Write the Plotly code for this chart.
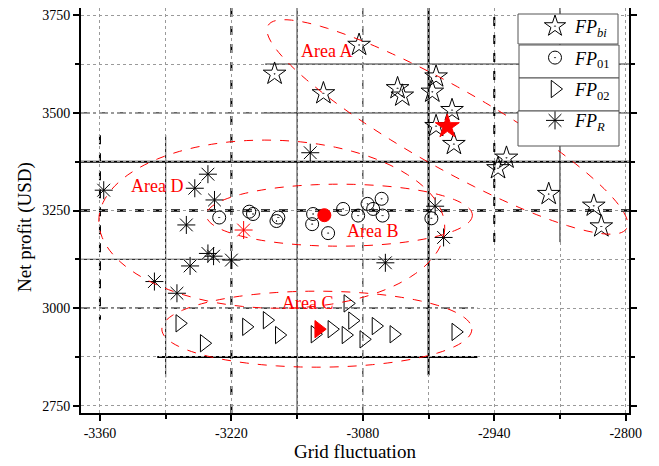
import numpy as np
import plotly.graph_objects as go

# ---------------- data ----------------
bi_x = [-3084, -3174, -3122, -3043, -3038, -3002, -3006, -2985, -3002, -2983, -2927, -2936, -2882, -2834, -2826]
bi_y = [3674, 3600, 3550, 3563, 3544, 3593, 3554, 3507, 3466, 3420, 3385, 3358, 3292, 3262, 3209]
bi_best = ([-2990], [3465])

fp01_x = [-3233, -3201, -3197, -3172, -3170, -3133, -3134, -3117, -3101, -3085, -3075, -3069, -3060, -3059, -3007]
fp01_y = [3232, 3247, 3241, 3223, 3232, 3241, 3215, 3192, 3254, 3237, 3267, 3254, 3280, 3237, 3230]
fp01_best = ([-3121], [3238])

fp02_x = [-3275, -3249, -3204, -3182, -3169, -3131, -3113, -3098, -3091, -3096, -3079, -3066, -3047, -2981]
fp02_y = [2961, 2910, 2952, 2969, 2931, 2933, 2946, 2931, 2968, 3012, 2920, 2954, 2933, 2939]
fp02_best = ([-3127], [2946])

fpr_x = [-3356, -3245, -3259, -3238, -3136, -3268, -3245, -3239, -3220, -3264, -3302, -3278, -3003, -2994, -3056]
fpr_y = [3302, 3343, 3307, 3277, 3398, 3213, 3140, 3133, 3123, 3108, 3068, 3038, 3261, 3181, 3116]
fpr_best = ([-3207], [3200])

x_ticks = [-3360, -3220, -3080, -2940, -2800]
x_tick_text = ["-3360", "-3220", "-3080", "-2940", "-2800"]
y_ticks = [2750, 3000, 3250, 3500, 3750]
y_tick_text = ["2750", "3000", "3250", "3500", "3750"]

area_names = ["Area A", "Area B", "Area C", "Area D"]
area_cx = [-2990, -3105, -3129, -3177]
area_cy = [3464, 3238, 2946, 3215]
area_label_x = [-3119, -3070, -3139, -3299]
area_label_y = [3658, 3197, 3013, 3312]

# ---------------- layout geometry ----------------
X0, X1 = -3380.2, -2796.5
Y0, Y1 = 2731.3, 3768.7
W, H = 651, 458            # page body adds an 8px offset
ML, MR, MT, MB = 73, 30, 0, 53
PW, PH = W - ML - MR, H - MT - MB
sx = PW / (X1 - X0)
sy = PH / (Y1 - Y0)
OFF = 8
def pxp(xs):  # screen x -> paper
    return (xs - OFF - ML) / PW
def pyp(ys):  # screen y -> paper
    return (H - MB - (ys - OFF)) / PH

FONT = "Liberation Serif"

fig = go.Figure()

def add(x, y, name, symbol, size, color="black", show=True, lw=1, group=None):
    fig.add_trace(go.Scatter(
        x=x, y=y, mode="markers", name=name, showlegend=show,
        legendgroup=group,
        marker=dict(symbol=symbol, size=size, color=color,
                    line=dict(color=color, width=lw)),
    ))

add(bi_x, bi_y, "<i>FP</i><sub><i>bi</i></sub>", "star-open-dot", 17, group="g1")
add(fp01_x, fp01_y, "<i>FP</i><sub>01</sub>", "circle-open-dot", 13, group="g2")
add(fp02_x, fp02_y, "<i>FP</i><sub>02</sub>", "triangle-right-open", 15, group="g3")
add(fpr_x, fpr_y, "<i>FP</i><sub><i>R</i></sub>", "asterisk-open", 15, group="g4")
add(*bi_best, "best bi", "star", 18, color="red", show=False)
add(*fp01_best, "best 01", "circle", 13, color="red", show=False)
add(*fp02_best, "best 02", "triangle-right", 15, color="red", show=False)
add(*fpr_best, "best R", "asterisk-open", 15, color="red", show=False)

shapes = []

# black overlay grid segments (decoration)
def seg(x0, y0, x1, y1, width=1, dash="solid"):
    shapes.append(dict(type="line", xref="x", yref="y", x0=x0, y0=y0, x1=x1, y1=y1,
                       line=dict(color="black", width=width, dash=dash), layer="below"))

seg(-3184, 3625, X1, 3625, 1)
seg(X0, 3500, -3182, 3500, 1, "dashdot")
seg(-3182, 3500, X1, 3500, 1)
seg(X0, 3375, X1, 3375, 2)
seg(X0, 3250, X1, 3250, 2.5, "dash")
seg(X0, 3125, -2986, 3125, 1)
seg(X0, 3000, -2958, 3000, 1.2, "dashdot")
seg(-3299, 2875, -2958, 2875, 2)

seg(-3360, 3443, -3360, 2970, 2, "dash")
seg(-3290, 3443, -3290, 2823, 1)
seg(-3220, Y0, -3220, Y1, 2, "dash")
seg(-3150, Y0, -3150, Y1, 1)
seg(-3080, Y0, -3080, Y1, 1, "dash")
seg(-3010, 2828, -3010, Y1, 2)
seg(-2940, 3169, -2940, Y1, 2, "dash")
seg(-2870, 3169, -2870, Y1, 1)

# ellipses (pixel-space semi-axes, rotation)
ell_a = [206, 133, 155, 173]
ell_b = [40, 31, 38, 84]
ell_ang = [29.5, 0, 0, 1.4]
t = np.linspace(0, 2 * np.pi, 121)
for cx, cy, a, b, ang in zip(area_cx, area_cy, ell_a, ell_b, ell_ang):
    th = np.deg2rad(ang)
    px = a * np.cos(t) * np.cos(th) - b * np.sin(t) * np.sin(th)
    py = a * np.cos(t) * np.sin(th) + b * np.sin(t) * np.cos(th)  # screen y down
    xs = cx + px / sx
    ys = cy - py / sy
    path = "M " + " L ".join(f"{x:.3f},{y:.3f}" for x, y in zip(xs, ys)) + " Z"
    shapes.append(dict(type="path", xref="x", yref="y", path=path,
                       line=dict(color="red", width=1, dash="dash"), layer="above"))

# legend boxes (stacked frames)
box_l = [518, 519, 519, 518]
box_r = [618, 619, 619, 619]
box_t = [14, 45, 78, 111]
box_b = [44, 78, 111, 146]
for l, r, tp, bt in zip(box_l, box_r, box_t, box_b):
    shapes.append(dict(type="rect", xref="paper", yref="paper",
                       x0=pxp(l), x1=pxp(r), y0=pyp(bt), y1=pyp(tp),
                       fillcolor="white", line=dict(color="#555555", width=1), layer="above"))

annotations = []
for name, lx, ly in zip(area_names, area_label_x, area_label_y):
    annotations.append(dict(x=lx, y=ly, xref="x", yref="y", text=name, showarrow=False,
                            font=dict(family=FONT, size=18, color="red")))

# axis titles as annotations (exact placement)
annotations.append(dict(x=pxp(355), y=0, xref="paper", yref="paper", yshift=-38, yanchor="middle",
                        text="Grid fluctuation", showarrow=False,
                        font=dict(family=FONT, size=19, color="black")))
annotations.append(dict(x=0, y=pyp(227), xref="paper", yref="paper", xshift=-56, text="Net profit (USD)",
                        textangle=-90, showarrow=False, xanchor="center", yanchor="middle",
                        font=dict(family=FONT, size=19, color="black")))

axis_common = dict(
    showline=True, linecolor="black", linewidth=2, mirror="ticks",
    ticks="outside", ticklen=6, tickwidth=2, tickcolor="black",
    showgrid=True, gridcolor="#9a9a9a", gridwidth=1, griddash="dot",
    zeroline=False, automargin=False,
    tickfont=dict(family=FONT, size=14, color="black"),
)

fig.update_layout(
    width=W, height=H,
    margin=dict(l=ML, r=MR, t=MT, b=MB, autoexpand=False),
    paper_bgcolor="white", plot_bgcolor="white",
    font=dict(family=FONT, color="black"),
    xaxis=dict(range=[X0, X1], tickvals=x_ticks, ticktext=x_tick_text,
               minor=dict(dtick=70, tick0=-3360, ticks="outside", ticklen=4, tickwidth=2,
                          tickcolor="black", showgrid=True, gridcolor="#9a9a9a", griddash="dot"),
               **axis_common),
    yaxis=dict(range=[Y0, Y1], tickvals=y_ticks, ticktext=y_tick_text,
               minor=dict(dtick=125, tick0=2750, ticks="outside", ticklen=4, tickwidth=2,
                          tickcolor="black", showgrid=True, gridcolor="#9a9a9a", griddash="dot"),
               **axis_common),
    legend=dict(x=pxp(535), y=pyp(8), xanchor="left", yanchor="top",
                bgcolor="rgba(0,0,0,0)", borderwidth=0,
                traceorder="grouped", tracegroupgap=5,
                font=dict(family=FONT, size=18, color="black")),
    shapes=shapes,
    annotations=annotations,
    showlegend=True,
)

fig.write_html("out.html")
